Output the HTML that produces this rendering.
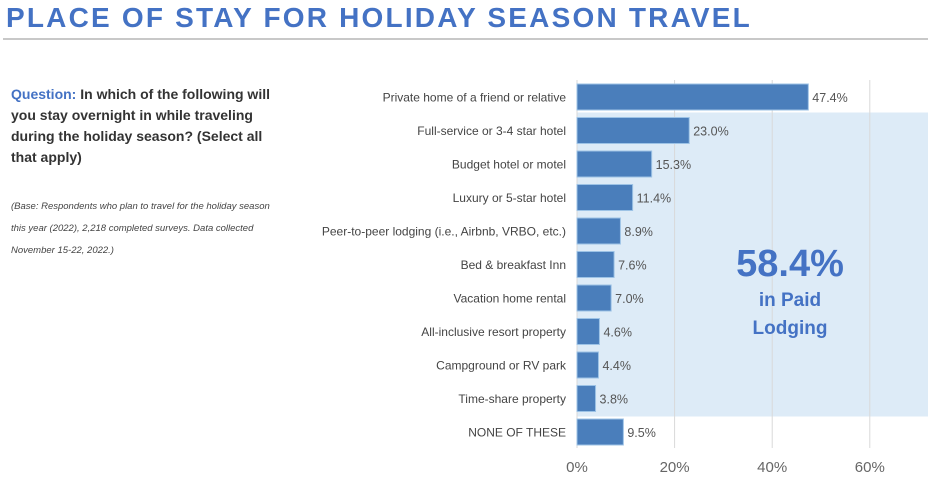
<!DOCTYPE html>
<html><head><meta charset="utf-8"><style>
body{margin:0;width:936px;height:498px;background:#fff;overflow:hidden;font-family:"Liberation Sans",sans-serif;position:relative}
#title{position:absolute;left:6px;top:2px;font-family:"Liberation Sans Narrow","Liberation Sans",sans-serif;font-weight:bold;font-size:28px;letter-spacing:2.2px;color:#4472c4;white-space:nowrap}
#rule{position:absolute;left:3px;top:38px;width:925px;height:2px;background:#c8c8c8}
#q{position:absolute;left:11px;top:84px;width:270px;font-size:14px;line-height:21px;font-weight:bold;color:#333}
#q span{color:#4472c4}
#base{position:absolute;left:11px;top:196px;width:270px;font-size:9.5px;line-height:22px;font-style:italic;color:#444}
</style></head><body>
<div id="title">PLACE OF STAY FOR HOLIDAY SEASON TRAVEL</div>
<div id="rule"></div>
<div id="q"><span>Question:</span> In which of the following will you stay overnight in while traveling during the holiday season? (Select all that apply)</div>
<div id="base">(Base: Respondents who plan to travel for the holiday season this year (2022), 2,218 completed surveys. Data collected November 15-22, 2022.)</div>
<svg id="chart" width="936" height="498" style="position:absolute;left:0;top:0"></svg>
<script>
const categories=["Private home of a friend or relative","Full-service or 3-4 star hotel","Budget hotel or motel","Luxury or 5-star hotel","Peer-to-peer lodging (i.e., Airbnb, VRBO, etc.)","Bed & breakfast Inn","Vacation home rental","All-inclusive resort property","Campground or RV park","Time-share property","NONE OF THESE"];
const values=[47.4,23.0,15.3,11.4,8.9,7.6,7.0,4.6,4.4,3.8,9.5];
const ticks=[0,20,40,60];
const svg=document.getElementById('chart');const NS="http://www.w3.org/2000/svg";
const x0=577,pxPer=4.88,y0=97,pitch=33.5,bh=26;
const X=v=>x0+v*pxPer, Y=i=>y0+i*pitch;
function mk(t,a,txt){const e=document.createElementNS(NS,t);for(const k in a)e.setAttribute(k,a[k]);if(txt!=null)e.textContent=txt;svg.appendChild(e);return e;}
let e=mk('rect',{x:x0,y:Y(1)-bh/2-5,width:928-x0,height:Y(9)-Y(1)+bh+10,fill:'#ddebf7'});

ticks.forEach(t=>{const g=mk('line',{x1:X(t),x2:X(t),y1:80,y2:448,stroke:'#d9d9d9','stroke-width':1});

const l=mk('text',{x:X(t),y:472,'text-anchor':'middle','font-size':15,fill:'#666'},t+'%');
});
categories.forEach((c,i)=>{const y=Y(i);
const b=mk('rect',{x:x0,y:y-bh/2,width:values[i]*pxPer,height:bh,fill:'#4a7ebb',stroke:'#9dc3e6','stroke-width':1});

const l=mk('text',{x:566,y:y+4.5,'text-anchor':'end','font-size':12,fill:'#444'},c);

const v=mk('text',{x:X(values[i])+4,y:y+5,'font-size':12.5,fill:'#555'},values[i].toFixed(1)+'%');
});
e=mk('text',{x:790,y:276,'text-anchor':'middle','font-size':38,'font-weight':'bold',fill:'#4472c4'},'58.4%');

e=mk('text',{x:790,y:306,'text-anchor':'middle','font-size':19,'font-weight':'bold',fill:'#4472c4'},'in Paid');

e=mk('text',{x:790,y:334,'text-anchor':'middle','font-size':19,'font-weight':'bold',fill:'#4472c4'},'Lodging');

</script>
</body></html>
